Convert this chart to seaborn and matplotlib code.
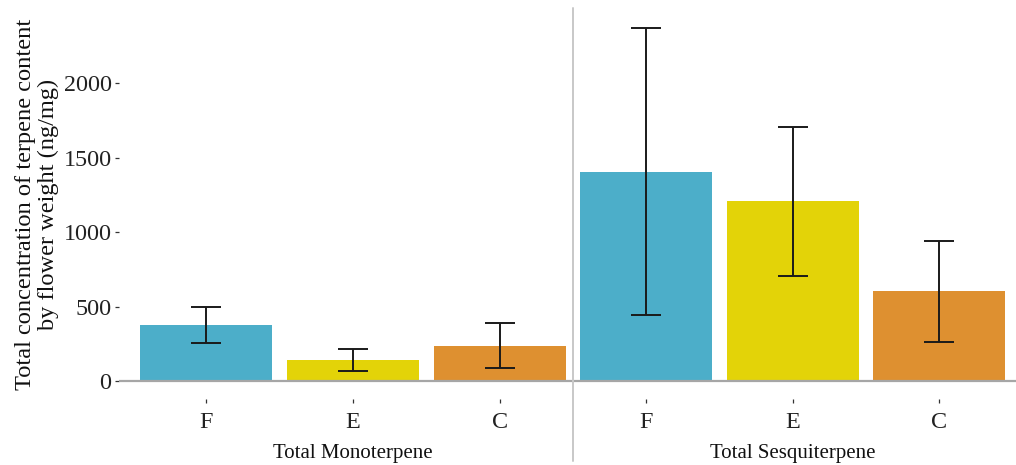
import matplotlib
matplotlib.use("Agg")
import matplotlib.pyplot as plt
from matplotlib.lines import Line2D
from matplotlib.transforms import blended_transform_factory
import seaborn as sns
import pandas as pd

# Terpene totals per flower treatment (ng/mg), with error bar half-widths
groups = ["Total Monoterpene", "Total Sesquiterpene"]
treatments = ["F", "E", "C"]
mono_mean = [378, 144, 238]
mono_err = [118, 72, 151]
sesq_mean = [1408, 1207, 604]
sesq_err = [963, 499, 340]
palette = {"F": "#46ACC8", "E": "#E2D200", "C": "#DD8D29"}

df = pd.DataFrame({
    "group": [groups[0]] * 3 + [groups[1]] * 3,
    "treatment": treatments * 2,
    "mean": mono_mean + sesq_mean,
    "err": mono_err + sesq_err,
})
df["slot"] = df["group"] + " " + df["treatment"]
order = list(df["slot"])

sns.set_theme(style="white")
plt.rcParams["font.family"] = ["Liberation Serif", "DejaVu Serif"]

W, H = 1016, 465
LEFT = 118.5
fig = plt.figure(figsize=(W / 100, H / 100), dpi=100)
ax = fig.add_axes([LEFT / W, (H - 399) / H, (W - LEFT) / W, (399 - 10.3) / H])

sns.barplot(data=df, x="slot", y="mean", hue="treatment", order=order,
            palette=palette, width=0.9, dodge=False, legend=False,
            errorbar=None, saturation=1, ax=ax, edgecolor="none")
for p in ax.patches:
    p.set_alpha(0.97)

ax.errorbar(range(len(df)), df["mean"], yerr=df["err"], fmt="none",
            ecolor="#1a1a1a", elinewidth=1.4, capsize=10.5, capthick=1.4,
            zorder=5)

ax.axhline(0, color="#a6a6a6", lw=1.6, zorder=1)

ax.set_xlim(-0.6, -0.6 + (W - LEFT) / 146.6)
ax.set_ylim(-118.5, 2490)
ax.set_yticks([0, 500, 1000, 1500, 2000])
ax.set_xticks(range(len(df)))
ax.set_xticklabels(df["treatment"])
ax.set_xlabel("")
ax.set_ylabel("Total concentration of terpene content\nby flower weight (ng/mg)",
              fontsize=17.6, color="#111111", labelpad=3, linespacing=1.15)

for s in ax.spines.values():
    s.set_visible(False)
ax.tick_params(axis="both", which="both", length=3, width=0.9,
               color="#333333", labelsize=17.4, labelcolor="#222222",
               direction="out", pad=2)
ax.tick_params(axis="x", pad=6)
ax.tick_params(left=True, bottom=True)
ax.grid(False)

# group labels under the tick labels, centred on each trio of bars
bt = blended_transform_factory(ax.transData, fig.transFigure)
for i, g in enumerate(groups):
    ax.text(3 * i + 1, 1 - 453 / H, g, transform=bt, ha="center", va="center",
            fontsize=15, color="#111111")

# separator between the two groups
fig.add_artist(Line2D([2.5, 2.5], [1 - 8 / H, 1 - 461 / H], transform=bt,
                      color="#c8c8c8", lw=1.4))

fig.savefig("out.png", dpi=100)
